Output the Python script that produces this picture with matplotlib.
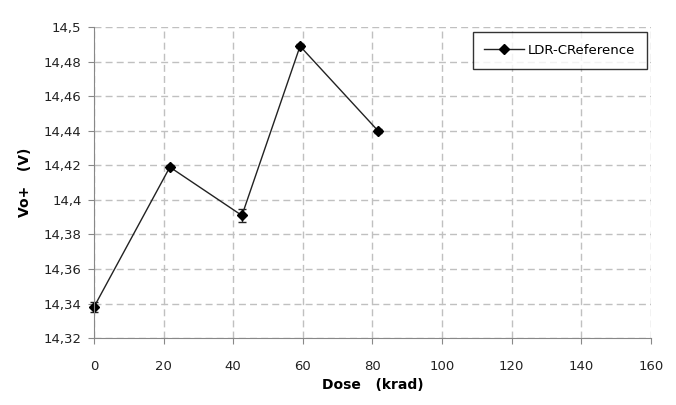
import numpy as np
import matplotlib.pyplot as plt
from matplotlib.ticker import FuncFormatter
from matplotlib.lines import Line2D

# data
dose = [0, 21.8, 42.5, 59.2, 81.6]
vo = [14.338, 14.419, 14.391, 14.489, 14.44]
vo_err = [0.003, 0.001, 0.004, 0.001, 0.001]

xticks = np.arange(0, 161, 20)
yticks = np.arange(14.32, 14.501, 0.02)

fig = plt.figure(figsize=(6.76, 4.05), dpi=100)
ax = fig.add_axes([0.139, 0.165, 0.824, 0.768])

line, caps, bars = ax.errorbar(dose, vo, yerr=vo_err, color='#222222', lw=1.0,
                               marker='D', ms=5, mfc='black', mec='black',
                               capsize=3, elinewidth=1.0)
for a in [line, *caps, *bars]:
    a.set_clip_on(False)

ax.set_xlim(0, 160)
ax.set_ylim(14.32, 14.5)
ax.set_xticks(xticks)
ax.set_yticks(yticks)

def comma(v, pos):
    s = ('%.2f' % v).rstrip('0').rstrip('.')
    return s.replace('.', ',')

ax.yaxis.set_major_formatter(FuncFormatter(comma))
ax.grid(True, color='#c0c0c0', ls=(0, (5, 3)), lw=1.0)
ax.set_axisbelow(True)

for s in ['top', 'right']:
    ax.spines[s].set_visible(False)
for s in ['left', 'bottom']:
    ax.spines[s].set_color('#888888')
ax.tick_params(colors='#888888', labelcolor='#222222', labelsize=9.5, length=4)
ax.tick_params(axis='x', pad=12)
ax.tick_params(axis='y', pad=5)

ax.set_xlabel('Dose   (krad)', fontsize=10, fontweight='bold', labelpad=3)
ax.set_ylabel('Vo+   (V)', fontsize=10, fontweight='bold', labelpad=8)

handle = Line2D([], [], color='#222222', lw=1.0, marker='D', ms=5, mfc='black', mec='black')
leg = ax.legend([handle], ['LDR-CReference'], loc='upper right',
                bbox_to_anchor=(1.005, 1.005), fontsize=9.5,
                frameon=True, fancybox=False, handlelength=3.0,
                borderpad=0.9, handletextpad=0.3)
leg.get_frame().set_edgecolor('black')
leg.get_frame().set_linewidth(1.0)

fig.savefig('out.png', dpi=100)
